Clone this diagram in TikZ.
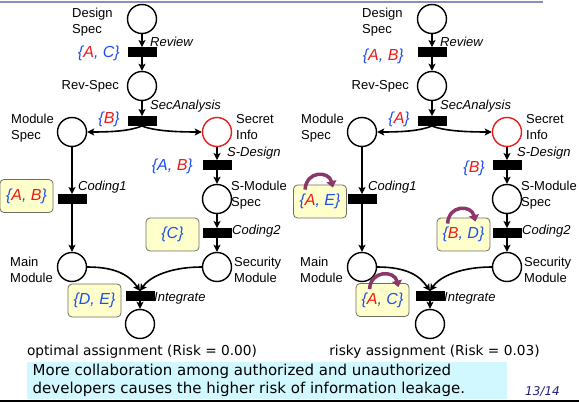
\documentclass[tikz,border=0pt]{standalone}
\usepackage{fontspec}
\setmainfont{Liberation Sans}
\newfontfamily\verd{DejaVu Sans}
\usetikzlibrary{arrows.meta}

\definecolor{setblue}{RGB}{30,80,235}
\definecolor{setred}{RGB}{240,25,25}
\definecolor{secred}{RGB}{230,30,30}
\definecolor{plum}{RGB}{140,55,105}
\definecolor{boxfill}{RGB}{255,255,204}
\definecolor{boxline}{RGB}{110,110,100}
\definecolor{notefill}{RGB}{210,248,255}
\definecolor{rulecol}{RGB}{140,140,190}
\definecolor{pagenum}{RGB}{30,30,120}

\newcommand\blueT[1]{\textcolor{setblue}{#1}}
\newcommand\redT[1]{\textcolor{setred}{#1}}
\newcommand\tset[1]{\blueT{\{}#1\blueT{\}}}

\tikzset{
  place/.style={circle, draw, line width=1.4pt, minimum size=29pt, inner sep=0pt},
  trans/.style={rectangle, fill=black, minimum width=29pt, minimum height=9.5pt, inner sep=0pt},
  flowarc/.style={line width=1.6pt, -{Stealth[length=7pt,width=7pt,inset=1.5pt]}},
  lbl/.style={inner sep=0pt, align=left, font=\fontsize{13}{16}\selectfont},
  ilbl/.style={inner sep=0pt, font=\fontsize{13}{16}\selectfont\itshape},
  setlbl/.style={inner sep=0pt, font=\fontsize{16}{19}\selectfont\itshape},
  setbox/.style={draw=boxline, fill=boxfill, line width=0.8pt, rounded corners=4pt,
    minimum width=53pt, minimum height=33pt, inner sep=0pt, font=\fontsize{16}{19}\selectfont\itshape},
  swaparc/.style={draw=plum, line width=3.5pt, -{Triangle[length=6.5pt,width=10pt]}},
  captext/.style={inner sep=0pt, font=\verd\fontsize{13.7}{16}\selectfont},
}

% The common workflow net; #1 prefixes the node names
\newcommand\drawnet[1]{%
  \node[place] (#1ds) at (142,19) {};
  \node[trans] (#1rev) at (142,52) {};
  \node[place] (#1rs) at (142,86) {};
  \node[trans] (#1sa) at (142,121) {};
  \node[place] (#1ms) at (72,132) {};
  \node[place,draw=secred] (#1si) at (217,132) {};
  \node[trans] (#1sd) at (217,165) {};
  \node[place] (#1sms) at (217,199) {};
  \node[trans] (#1cb) at (217,233) {};
  \node[place] (#1sm) at (217,267) {};
  \node[trans] (#1ca) at (72,199) {};
  \node[place] (#1mm) at (72,267) {};
  \node[trans] (#1int) at (140,296) {};
  \node[place] (#1out) at (140,324) {};
  \draw[flowarc] (#1ds) -- (#1rev);
  \draw[flowarc] (#1rev) -- (#1rs);
  \draw[flowarc] (#1rs) -- (#1sa);
  \draw[flowarc] (#1sa.south) .. controls +(-12,5) and +(25,0) .. (#1ms.east);
  \draw[flowarc] (#1sa.south) .. controls +(12,5) and +(-25,0) .. (#1si.west);
  \draw[flowarc] (#1ms) -- (#1ca);
  \draw[flowarc] (#1ca) -- (#1mm);
  \draw[flowarc] (#1si) -- (#1sd);
  \draw[flowarc] (#1sd) -- (#1sms);
  \draw[flowarc] (#1sms) -- (#1cb);
  \draw[flowarc] (#1cb) -- (#1sm);
  \draw[flowarc] (#1mm.east) .. controls +(30,0) and +(-10,-15) .. (#1int.north);
  \draw[flowarc] (#1sm.west) .. controls +(-30,0) and +(10,-15) .. (#1int.north);
  \draw[flowarc] (#1int) -- (#1out);
  \node[lbl,anchor=west] (#1tds) at (72,22) {Design\\Spec};
  \node[ilbl,anchor=west] (#1trev) at (150,42) {Review};
  \node[lbl,anchor=east] (#1trs) at (119,86) {Rev-Spec};
  \node[ilbl,anchor=west] (#1tsa) at (150,106) {SecAnalysis};
  \node[lbl,anchor=west] (#1tms) at (11,128) {Module\\Spec};
  \node[lbl,anchor=west] (#1tsi) at (236,127) {Secret\\Info};
  \node[ilbl,anchor=west] (#1tsd) at (227,153) {S-Design};
  \node[lbl,anchor=west] (#1tsms) at (231,195) {S-Module\\Spec};
  \node[ilbl,anchor=west] (#1tca) at (78,187) {Coding1};
  \node[ilbl,anchor=west] (#1tcb) at (232,231) {Coding2};
  \node[lbl,anchor=west] (#1tmm) at (10,270) {Main\\Module};
  \node[lbl,anchor=west] (#1tsm) at (234,270) {Security\\Module};
  \node[ilbl,anchor=west] (#1tint) at (154,298) {Integrate};
}

\begin{document}
\begin{tikzpicture}[x=1pt, y=-1pt]
  \useasboundingbox (0,0) rectangle (579,403);

  % slide rules
  \draw[rulecol, line width=2pt] (0,2) -- (543,2);
  \draw[black, line width=2pt] (0,401.5) -- (579,401.5);

  % optimal assignment
  \drawnet{L}
  \node[setlbl,anchor=east] (Lsrev) at (120,53) {\tset{\redT{A}\blueT{, C}}};
  \node[setlbl,anchor=east] (Lssa) at (120,119) {\tset{\redT{B}}};
  \node[setlbl,anchor=east] (Lssd) at (193,166) {\tset{\blueT{A, }\redT{B}}};
  \node[setbox] (Lba) at (26.5,196) {\tset{\redT{A}\blueT{, }\redT{B}}};
  \node[setbox] (Lbb) at (172.5,234.5) {\tset{\blueT{C}}};
  \node[setbox] (Lbc) at (94.5,300.5) {\tset{\blueT{D, E}}};
  \node[captext] (Lcap) at (142,352) {optimal assignment (Risk = 0.00)};

  % risky assignment
  \begin{scope}[xshift=290pt]
    \drawnet{R}
    \node[setlbl,anchor=east] (Rsrev) at (114,56) {\tset{\redT{A}\blueT{, }\redT{B}}};
    \node[setlbl,anchor=east] (Rssa) at (120,119) {\tset{\redT{A}}};
    \node[setlbl,anchor=east] (Rssd) at (195,168) {\tset{\redT{B}}};
    \node[setbox] (Rba) at (30,201.5) {\tset{\redT{A}\blueT{, E}}};
    \node[setbox] (Rbb) at (173.5,234.5) {\tset{\redT{B}\blueT{, D}}};
    \node[setbox] (Rbc) at (92.5,300) {\tset{\redT{A}\blueT{, C}}};
    \draw[swaparc] ([xshift=12pt,yshift=-5pt]Rba.north west) .. controls +(1,-19) and +(-4,-17) .. ([xshift=-14pt,yshift=-3pt]Rba.north east);
    \draw[swaparc] ([xshift=11pt,yshift=-6pt]Rbb.north west) .. controls +(1,-19) and +(-4,-17) .. ([xshift=-15pt,yshift=-4pt]Rbb.north east);
    \draw[swaparc] ([xshift=14pt,yshift=-6pt]Rbc.north west) .. controls +(1,-19) and +(-4,-17) .. ([xshift=-11pt,yshift=-4pt]Rbc.north east);
    \node[captext] (Rcap) at (144.5,352) {risky assignment (Risk = 0.03)};
  \end{scope}

  % closing remark
  \node[fill=notefill, minimum width=480pt, minimum height=37pt, inner sep=0pt] (noteBg) at (267,380.5) {};
  \node[anchor=west, inner sep=0pt, align=left, font=\verd\fontsize{15}{18}\selectfont] (noteTxt) at (32.5,380)
    {More collaboration among authorized and unauthorized\\developers causes the higher risk of information leakage.};
  \node[inner sep=0pt, text=pagenum, font=\verd\itshape\fontsize{12}{14}\selectfont] (pg) at (542.5,392) {13/14};
\end{tikzpicture}
\end{document}
